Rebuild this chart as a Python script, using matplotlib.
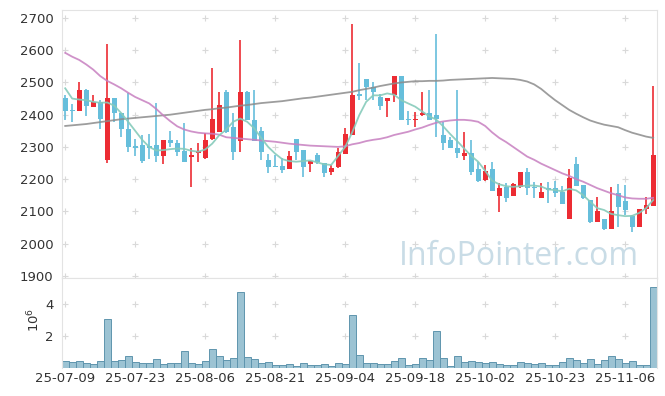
import numpy as np
import matplotlib
matplotlib.use("Agg")
import matplotlib.pyplot as plt

# ---------------- data ----------------
tick_idx = [0, 10, 20, 30, 40, 50, 60, 70, 80]
tick_labels = ["25-07-09", "25-07-23", "25-08-06", "25-08-21", "25-09-04",
               "25-09-18", "25-10-02", "25-10-23", "25-11-06"]

opens = [2451, 2416, 2412, 2477, 2425, 2440, 2258, 2451, 2404, 2355,
         2302, 2305, 2302, 2305, 2273, 2321, 2313, 2288, 2270, 2281,
         2264, 2324, 2347, 2469, 2362, 2319, 2471, 2385, 2349, 2259,
         2242, 2240, 2232, 2324, 2290, 2246, 2274, 2250, 2223, 2238,
         2279, 2338, 2463, 2510, 2486, 2455, 2442, 2460, 2519, 2387,
         2383, 2398, 2404, 2398, 2337, 2321, 2298, 2271, 2282, 2231,
         2197, 2231, 2147, 2176, 2147, 2176, 2221, 2176, 2140, 2171,
         2171, 2161, 2075, 2247, 2181, 2135, 2068, 2075, 2044, 2158,
         2133, 2085, 2052, 2107, 2117]
highs = [2461, 2433, 2500, 2480, 2460, 2446, 2619, 2452, 2405, 2468,
         2324, 2337, 2339, 2437, 2322, 2349, 2322, 2373, 2296, 2311,
         2342, 2544, 2469, 2476, 2404, 2633, 2474, 2478, 2362, 2279,
         2274, 2264, 2287, 2324, 2290, 2256, 2281, 2250, 2243, 2297,
         2359, 2683, 2559, 2511, 2502, 2463, 2452, 2519, 2520, 2411,
         2409, 2469, 2476, 2649, 2378, 2330, 2476, 2347, 2321, 2254,
         2244, 2254, 2189, 2187, 2187, 2222, 2233, 2192, 2189, 2192,
         2195, 2178, 2230, 2269, 2181, 2135, 2145, 2075, 2176, 2185,
         2181, 2090, 2106, 2143, 2489]
lows = [2383, 2378, 2410, 2395, 2424, 2355, 2249, 2378, 2332, 2285,
        2272, 2249, 2263, 2254, 2246, 2299, 2272, 2254, 2174, 2254,
        2262, 2322, 2346, 2344, 2259, 2285, 2383, 2319, 2259, 2219,
        2238, 2219, 2230, 2259, 2207, 2222, 2248, 2207, 2212, 2236,
        2278, 2336, 2445, 2445, 2445, 2414, 2393, 2438, 2383, 2369,
        2362, 2397, 2383, 2331, 2290, 2298, 2264, 2259, 2213, 2190,
        2195, 2164, 2099, 2130, 2147, 2172, 2150, 2140, 2140, 2125,
        2143, 2123, 2075, 2178, 2137, 2063, 2068, 2042, 2044, 2052,
        2088, 2037, 2052, 2092, 2117]
closes = [2412, 2413, 2477, 2427, 2438, 2388, 2451, 2404, 2355, 2299,
          2298, 2257, 2297, 2273, 2321, 2311, 2285, 2254, 2275, 2288,
          2321, 2387, 2430, 2347, 2285, 2471, 2385, 2319, 2285, 2238,
          2238, 2228, 2271, 2285, 2238, 2256, 2253, 2219, 2235, 2283,
          2339, 2460, 2458, 2486, 2469, 2427, 2452, 2519, 2383, 2385,
          2388, 2406, 2383, 2386, 2311, 2298, 2280, 2280, 2223, 2195,
          2226, 2164, 2173, 2142, 2184, 2222, 2171, 2171, 2160, 2166,
          2158, 2123, 2205, 2178, 2140, 2068, 2101, 2044, 2101, 2114,
          2104, 2052, 2106, 2119, 2275]
volume_m = [0.42, 0.35, 0.42, 0.29, 0.23, 0.42, 3.04, 0.42, 0.48, 0.73,
            0.35, 0.29, 0.29, 0.54, 0.23, 0.29, 0.29, 1.04, 0.29, 0.23,
            0.42, 1.17, 0.73, 0.48, 0.60, 4.73, 0.67, 0.54, 0.29, 0.35,
            0.17, 0.17, 0.23, 0.10, 0.29, 0.17, 0.17, 0.23, 0.15, 0.33,
            0.25, 3.31, 0.81, 0.31, 0.31, 0.25, 0.25, 0.44, 0.63, 0.19,
            0.25, 0.63, 0.50, 2.31, 0.63, 0.125, 0.75, 0.375, 0.44, 0.375,
            0.31, 0.375, 0.25, 0.19, 0.19, 0.375, 0.31, 0.25, 0.31, 0.19,
            0.19, 0.375, 0.63, 0.50, 0.31, 0.56, 0.25, 0.50, 0.75, 0.56,
            0.31, 0.44, 0.19, 0.19, 5.08]
ma5 = [2482, 2450, 2447, 2445, 2440, 2437, 2438, 2428, 2405, 2378,
       2350, 2322, 2300, 2289, 2290, 2293, 2295, 2294, 2288, 2285,
       2292, 2310, 2336, 2354, 2378, 2388, 2378, 2358, 2328, 2300,
       2279, 2262, 2256, 2254, 2256, 2258, 2252, 2246, 2244, 2272,
       2300, 2345, 2398, 2440, 2460, 2460, 2466, 2462, 2445, 2435,
       2425, 2410, 2395, 2385, 2364, 2340, 2318, 2295, 2272, 2254,
       2226, 2195, 2184, 2178, 2176, 2178, 2180, 2180, 2177, 2168,
       2166, 2162, 2170, 2165, 2150, 2130, 2110, 2104, 2092, 2088,
       2085, 2086, 2095, 2110, 2135]
ma20 = [2592, 2580, 2570, 2556, 2540, 2520, 2505, 2494, 2482, 2468,
        2455, 2445, 2435, 2418, 2398, 2380, 2364, 2354, 2348, 2344,
        2342, 2341, 2338, 2330, 2328, 2326, 2324, 2322, 2320, 2318,
        2316, 2313, 2310, 2308, 2306, 2304, 2303, 2302, 2301, 2300,
        2302, 2308, 2312, 2318, 2322, 2325, 2330, 2337, 2342, 2347,
        2354, 2360, 2368, 2375, 2379, 2382, 2384, 2384, 2382, 2378,
        2365, 2345, 2328, 2315, 2300, 2285, 2270, 2260, 2248, 2238,
        2228, 2218, 2210, 2200, 2192, 2182, 2172, 2164, 2156, 2150,
        2143, 2140, 2139, 2139, 2142]
ma60 = [2365, 2367, 2369, 2371, 2374, 2377, 2380, 2383, 2386, 2388,
        2390, 2392, 2394, 2396, 2398, 2400, 2403, 2406, 2409, 2412,
        2415, 2417, 2420, 2422, 2425, 2428, 2430, 2433, 2436, 2438,
        2440, 2442, 2445, 2448, 2451, 2453, 2456, 2459, 2462, 2465,
        2468, 2471, 2476, 2480, 2484, 2489, 2493, 2497, 2500, 2502,
        2504, 2504, 2505, 2505, 2506, 2508, 2509, 2510, 2511, 2512,
        2513, 2514, 2513, 2512, 2511, 2508, 2503, 2494, 2480, 2462,
        2445, 2430, 2415, 2403, 2392, 2382, 2375, 2369, 2365, 2361,
        2352, 2344, 2338, 2332, 2328]
price_ticks = [1900, 2000, 2100, 2200, 2300, 2400, 2500, 2600, 2700]
vol_ticks = [2, 4]

# ---------------- styling ----------------
UP = "#ec2c33"
DOWN = "#66bedb"
GRID = "#d9d9d9"
SPINE = "#e3e3e3"
TXT = "#333333"

W, H = 665, 396
fig = plt.figure(figsize=(W / 100, H / 100), dpi=100)
fig.patch.set_facecolor("white")

L, R = 61.7, 657.0
ax = fig.add_axes([L / W, 1 - 278 / H, (R - L) / W, (278 - 10) / H])
axv = fig.add_axes([L / W, 1 - 368 / H, (R - L) / W, (368 - 278) / H], sharex=ax)

o = np.array(opens, float)
h = np.array(highs, float)
l = np.array(lows, float)
c = np.array(closes, float)
x = np.arange(len(o))
up = c >= o
col = np.where(up, UP, DOWN)

# grid crosses
gx, gy = np.meshgrid(tick_idx, price_ticks)
ax.scatter(gx.ravel(), gy.ravel(), marker="+", s=18, c=GRID, linewidths=0.8, zorder=0)

# wicks and bodies
ax.vlines(x, l, h, colors=col, linewidth=1.2, zorder=2)
body_lo = np.minimum(o, c)
body_h = np.maximum(np.abs(c - o), 2.5)
ax.bar(x, body_h, bottom=body_lo, width=0.72, color=col, linewidth=0, zorder=3)

# moving averages
ax.plot(x, ma60, color="#8c8c8c", lw=1.3, alpha=0.85, zorder=4)
ax.plot(x, ma20, color="#c77fc0", lw=1.3, alpha=0.85, zorder=4)
ax.plot(x, ma5, color="#86cbbb", lw=1.3, alpha=0.9, zorder=4)

ax.set_ylim(1893, 2725)
ax.set_xlim(-0.5, 84.55)
ax.set_yticks(price_ticks)
ax.set_yticklabels([str(t) for t in price_ticks])
ax.tick_params(axis="y", length=0, pad=6, labelsize=9.5, labelcolor=TXT)
ax.tick_params(axis="x", length=0, labelbottom=False)
for s in ["top", "right", "left"]:
    ax.spines[s].set_color(SPINE)
ax.spines["bottom"].set_color(SPINE)

ax.text(0.97, 0.08, "InfoPointer.com", transform=ax.transAxes, ha="right",
        va="center", fontsize=23, color="#c9dce6", family="Open Sans", zorder=1)

# volume
vol = np.array(volume_m) * 1e6
vgx, vgy = np.meshgrid(tick_idx, [2e6, 4e6])
axv.scatter(vgx.ravel(), vgy.ravel(), marker="+", s=18, c=GRID, linewidths=0.8, zorder=0)
axv.bar(x, vol, width=1.0, color="#9cc3d3", edgecolor="#5f95ae", linewidth=0.7, zorder=2)
axv.set_ylim(0, 5.63e6)
axv.set_yticks([v * 1e6 for v in vol_ticks])
axv.set_yticklabels([str(v) for v in vol_ticks])
axv.tick_params(axis="y", length=0, pad=6, labelsize=9.5, labelcolor=TXT)
axv.set_xticks(tick_idx)
axv.set_xticklabels(tick_labels)
axv.tick_params(axis="x", length=0, pad=3, labelsize=9.5, labelcolor=TXT)
for s in ["top", "right", "left"]:
    axv.spines[s].set_color(SPINE)
axv.spines["bottom"].set_visible(False)
fig.text(34 / W, 1 - 320 / H, "$10^6$", rotation=90, ha="center", va="center",
         fontsize=9.5, color=TXT)

fig.savefig("out.png", dpi=100, facecolor="white")
